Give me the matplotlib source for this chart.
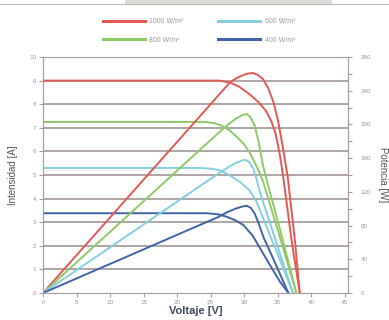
import matplotlib.pyplot as plt
from matplotlib.patches import Rectangle
from matplotlib.lines import Line2D

plt.rcParams['font.family'] = ['Liberation Sans Narrow', 'Liberation Sans', 'DejaVu Sans']

# curvas I-V: voltaje [V] e intensidad [A]
v_iv_1000 = [0, 26.4, 28, 29.2, 30.2, 31.2, 32.3, 33.3, 34.1, 34.7, 35.3, 35.8, 37.1, 38.3]
i_iv_1000 = [9.0, 9.0, 8.9, 8.75, 8.55, 8.33, 8.04, 7.7, 7.25, 6.75, 5.9, 5.0, 2.2, 0]
v_iv_800 = [0, 24, 25.5, 26.6, 27.8, 28.9, 30.0, 30.9, 31.9, 32.8, 35.1, 37.8]
i_iv_800 = [7.25, 7.25, 7.2, 7.1, 6.9, 6.62, 6.3, 5.92, 5.35, 4.75, 2.6, 0]
v_iv_600 = [0, 23, 25, 26.4, 27.9, 29.5, 30.8, 31.8, 33.5, 35.5, 37.3]
i_iv_600 = [5.3, 5.3, 5.27, 5.2, 4.98, 4.68, 4.35, 3.9, 2.7, 1.3, 0]
v_iv_400 = [0, 24.5, 26.2, 27.4, 28.7, 29.9, 31.3, 33.3, 35.3, 36.6]
i_iv_400 = [3.38, 3.38, 3.33, 3.23, 3.08, 2.88, 2.42, 1.45, 0.5, 0]

# curvas de potencia [W]
v_p_1000 = [0, 27.9, 29.0, 30.0, 30.7, 31.3, 32.0, 32.8, 33.6, 34.4, 35.1, 35.8, 36.5, 37.6, 38.3]
p_1000 = [0, 250, 255.5, 259, 260.5, 261, 259, 254, 243, 226, 203, 172, 138, 61, 0]
v_p_800 = [0, 26.6, 27.8, 28.8, 29.7, 30.4, 31.0, 31.6, 32.2, 32.8, 33.5, 35.3, 37.8]
p_800 = [0, 193, 201, 207, 211, 212.5, 208, 198, 178, 152, 130, 77, 0]
v_p_600 = [0, 26.4, 27.6, 28.7, 29.6, 30.2, 30.8, 31.4, 31.9, 32.5, 33.5, 35.5, 37.3]
p_600 = [0, 143, 149, 154, 157, 158, 155, 147, 134, 116, 92, 43, 0]
v_p_400 = [0, 26.1, 27.5, 28.7, 29.7, 30.4, 31.0, 31.6, 32.2, 32.9, 34.5, 36.6]
p_400 = [0, 90, 96, 100, 102.5, 103.5, 101, 94, 82, 66, 38, 0]

etiquetas = ['1000 W/m²', '800 W/m²', '600 W/m²', '400 W/m²']
colores = ['#e35a52', '#8fca68', '#86cfe0', '#4264aa']

iv = [(v_iv_1000, i_iv_1000), (v_iv_800, i_iv_800), (v_iv_600, i_iv_600), (v_iv_400, i_iv_400)]
pot = [(v_p_1000, p_1000), (v_p_800, p_800), (v_p_600, p_600), (v_p_400, p_400)]

gris = '#aa9e9e'
txt = '#999999'

fig = plt.figure(figsize=(3.89, 3.2), dpi=100)
ax = fig.add_axes([43/389, 27/320, 305/389, 236/320])
ax2 = ax.twinx()

ax.set_xlim(0, 45.5)
ax.set_ylim(0, 10)
ax2.set_ylim(0, 280)

for i in range(1, 10):
    ax.axhline(i, color=gris, lw=1.3, zorder=0)

for (v, i), c in zip(iv, colores):
    ax.plot(v, i, color=c, lw=1.4, zorder=3, solid_joinstyle='round')
for (v, p), c in zip(pot, colores):
    ax2.plot(v, p, color=c, lw=1.4, solid_joinstyle='round')

ax.set_xticks(range(0, 46, 5))
ax.set_yticks(range(0, 11))
ax2.set_yticks(range(0, 281, 40))
ax2.set_yticks(range(0, 281, 20), minor=True)

for a in (ax, ax2):
    for s in a.spines.values():
        s.set_color('#a8a0a0')
        s.set_linewidth(0.8)
ax.tick_params(axis='both', labelsize=4.5, colors=gris, labelcolor=txt, length=3, width=0.8, pad=2)
ax2.tick_params(axis='y', which='both', labelsize=4.5, colors=gris, labelcolor=txt, length=3, width=0.8, pad=6)

ax.set_xlabel('Voltaje [V]', fontsize=8, fontweight='bold', color='#3e4a5c', labelpad=1)
ax.set_ylabel('Intensidad [A]', fontsize=7, color='#555555', labelpad=8)
ax2.set_ylabel('Potencia [W]', fontsize=7, color='#555555', rotation=-90, labelpad=12)

handles = [Line2D([], [], color=c, lw=2.2) for c in colores]
fig.legend(handles, etiquetas, loc='center', bbox_to_anchor=(0.512, 0.903), ncol=2,
           frameon=False, fontsize=5, labelcolor=txt, handlelength=6, handletextpad=0.7,
           columnspacing=5, labelspacing=1.6)

# barra gris de la parte superior
fig.add_artist(Rectangle((125/389, 316/320), 207/389, 4/320, transform=fig.transFigure,
                         color='#dcd8d4', lw=0))
fig.add_artist(Line2D([0, 1], [316.5/320, 316.5/320], transform=fig.transFigure,
                      color='#bbbbbb', lw=0.8))

fig.savefig('out.png', dpi=100)
